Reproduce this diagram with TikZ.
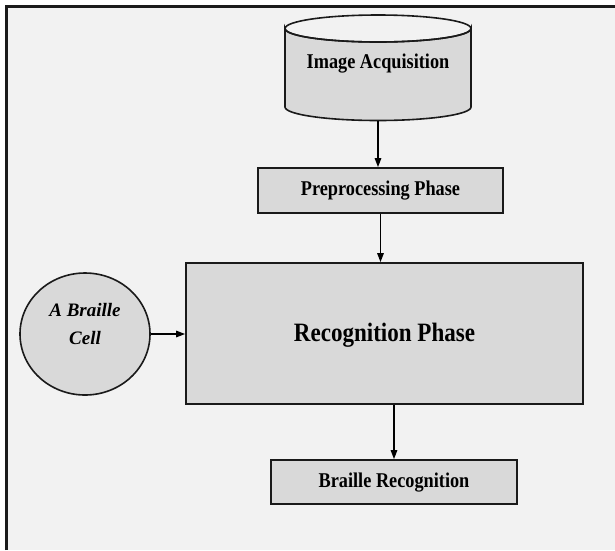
\documentclass[tikz,border=0pt]{standalone}
\usepackage{fontspec}
\setmainfont{Liberation Serif}
\newfontfamily\narrowserif[FakeStretch=0.87]{Liberation Serif}
\usetikzlibrary{arrows.meta,shapes.geometric}
\definecolor{pagebg}{HTML}{F2F2F2}
\definecolor{boxfill}{HTML}{D9D9D9}
\definecolor{edge}{HTML}{1A1A1A}
\tikzset{
  stagebox/.style={draw=edge, line width=1.8pt, fill=boxfill, rectangle, inner sep=0pt},
  label21/.style={font=\narrowserif\fontsize{21}{24}\selectfont\bfseries, text=black},
  flow/.style={draw=black, line width=1.4pt, -{Triangle[length=9pt,width=6.5pt]}},
}
\begin{document}
\begin{tikzpicture}[x=1pt,y=-1pt]
\useasboundingbox (0,0) rectangle (615,550);
% page frame
\fill[white] (0,0) rectangle (615,550);
\fill[pagebg] (6,6) rectangle (615,550);
\draw[edge, line width=2.6pt] (6.5,550) -- (6.5,6.5) -- (615,6.5);

% storage cylinder for the acquisition stage
\path[fill=boxfill, draw=edge, line width=1.6pt]
  (285,28.5) -- (285,107) arc[start angle=180, end angle=0, x radius=93, y radius=13.5]
  -- (471,28.5) arc[start angle=0, end angle=180, x radius=93, y radius=13.5] -- cycle;
\draw[edge, line width=1.6pt] (378,28.5) ellipse[x radius=93, y radius=13.5];
\node[minimum width=186pt, minimum height=106pt, inner sep=0pt] (acq) at (378,67.5) {};
\node[label21, anchor=base] (acqtext) at (378,68) {Image Acquisition};

% processing stages
\node[stagebox, minimum width=245pt, minimum height=45pt, label21,
      text height=14pt, text depth=3.6pt] (pre) at (380.5,190.5) {Preprocessing Phase};
\node[stagebox, minimum width=397pt, minimum height=141pt,
      font=\narrowserif\fontsize{26.5}{30}\selectfont\bfseries,
      text height=18pt, text depth=3pt] (rec) at (384.5,333.5) {Recognition Phase};
\node[stagebox, minimum width=246pt, minimum height=44pt, label21,
      text height=14pt, text depth=3.4pt] (br) at (394,482) {Braille Recognition};

% input cell
\node[ellipse, draw=edge, line width=1.6pt, fill=boxfill, minimum width=130pt, minimum height=122pt,
      inner sep=0pt] (cell) at (85,334) {};
\node[align=center, font=\fontsize{19}{28}\selectfont\bfseries\itshape, yshift=10pt]
      (celltext) at (cell.center) {A Braille\\Cell};

% connectors
\draw[flow] (acq.south) -- (acq.south |- pre.north);
\draw[flow] (pre.south) -- (pre.south |- rec.north);
\draw[flow] (br.north |- rec.south) -- (br.north);
\draw[flow] (cell.east) -- (cell.east -| rec.west);
\end{tikzpicture}
\end{document}
